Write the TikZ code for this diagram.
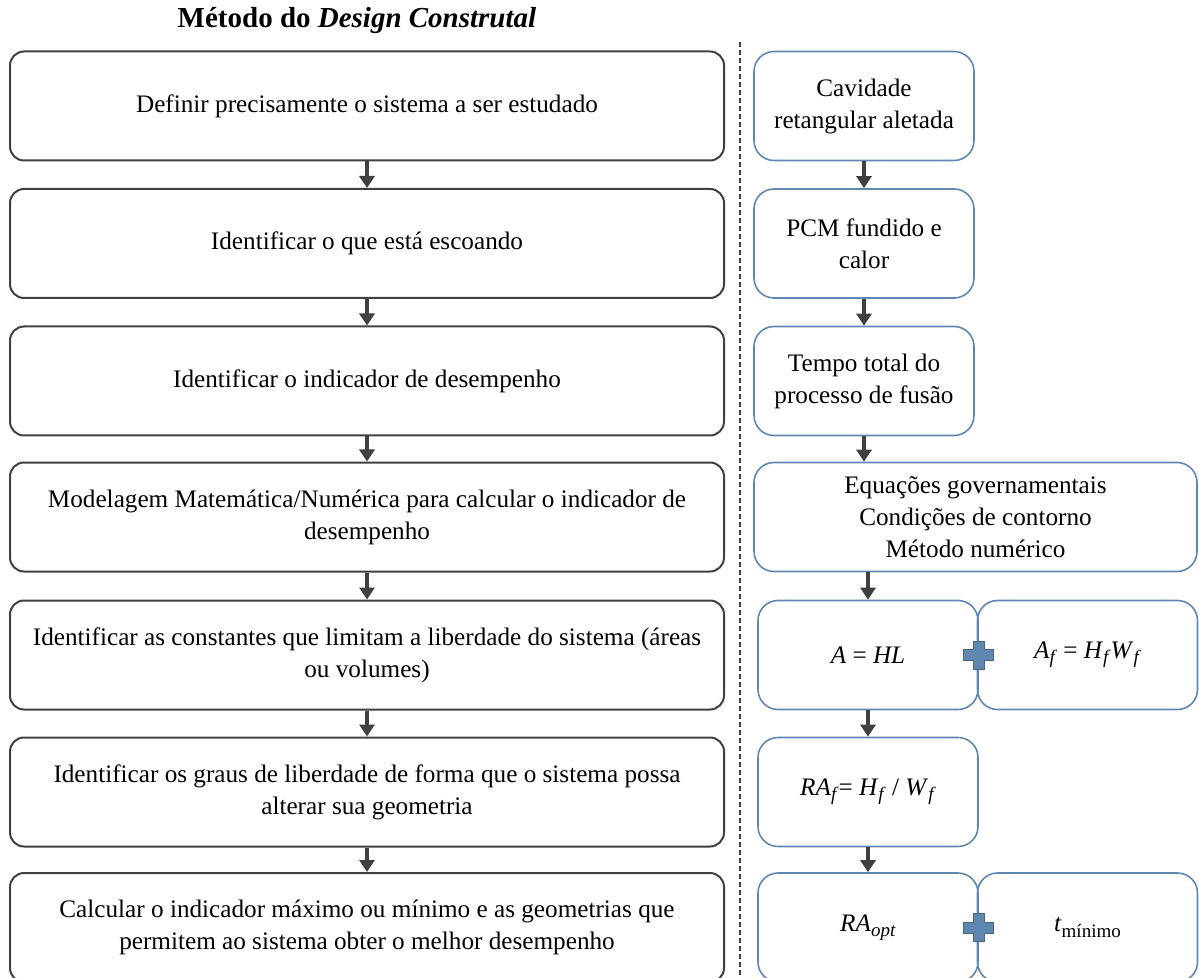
\documentclass[tikz,border=0pt]{standalone}
\usepackage{fontspec}
\setmainfont{Liberation Serif}
\usetikzlibrary{arrows.meta}

\definecolor{boxblue}{RGB}{96,134,178}
\definecolor{darkline}{RGB}{64,64,64}
\newcommand{\isub}[1]{\raisebox{-0.45ex}{\fontsize{9.5}{9.5}\selectfont\textit{#1}}}
\newcommand{\usub}[1]{\raisebox{-0.45ex}{\fontsize{9.5}{9.5}\selectfont #1}}

\tikzset{plusmark/.pic={
  \filldraw[fill=boxblue,draw=boxblue!75!black,line width=0.4pt]
    (-7.5pt,-2.75pt) -- (-2.75pt,-2.75pt) -- (-2.75pt,-7pt) -- (2.75pt,-7pt)
    -- (2.75pt,-2.75pt) -- (7.5pt,-2.75pt) -- (7.5pt,2.75pt) -- (2.75pt,2.75pt)
    -- (2.75pt,7pt) -- (-2.75pt,7pt) -- (-2.75pt,2.75pt) -- (-7.5pt,2.75pt) -- cycle;
}}

\begin{document}
\begin{tikzpicture}
[x=0.5pt,y=-0.5pt,%
  every node/.style={align=center,font=\fontsize{12.6}{16}\selectfont},%
  stepleft/.style={draw=darkline,line width=1pt,rounded corners=7pt,minimum width=357pt,minimum height=54.5pt},%
  stepright/.style={draw=boxblue,line width=0.8pt,rounded corners=10pt,minimum width=110pt,minimum height=54.5pt},%
  flow/.style={-{Triangle[length=6pt,width=7.5pt]},draw=darkline,line width=2pt}]
\useasboundingbox (0,0) rectangle (1199,978);

% title
\node[font=\fontsize{14.5}{16}\selectfont\bfseries] (title) at (357,21) {Método do \textit{Design Construtal}};

% method steps
\node[stepleft] (l1) at (367,106) {Definir precisamente o sistema a ser estudado};
\node[stepleft] (l2) at (367,243.5) {Identificar o que está escoando};
\node[stepleft] (l3) at (367,381) {Identificar o indicador de desempenho};
\node[stepleft] (l4) at (367,517) {Modelagem Matemática/Numérica para calcular o indicador de\\desempenho};
\node[stepleft] (l5) at (367,655) {Identificar as constantes que limitam a liberdade do sistema (áreas\\ou volumes)};
\node[stepleft] (l6) at (367,792) {Identificar os graus de liberdade de forma que o sistema possa\\alterar sua geometria};
\node[stepleft] (l7) at (367,927.5) {Calcular o indicador máximo ou mínimo e as geometrias que\\permitem ao sistema obter o melhor desempenho};

\foreach \a/\b in {l1/l2,l2/l3,l3/l4,l4/l5,l5/l6,l6/l7}
  \draw[flow] (\a) -- (\b);

% separator
\coordinate (sepA) at (740,42);
\coordinate (sepB) at (740,985);
\draw[darkline,line width=1pt,dash pattern=on 2.5pt off 1.5pt] (sepA) -- (sepB);

% application
\node[stepright] (r1) at (864,106) {Cavidade\\retangular aletada};
\node[stepright] (r2) at (864,243.5) {PCM fundido e\\calor};
\node[stepright] (r3) at (864,381) {Tempo total do\\processo de fusão};
\node[stepright,minimum width=221.5pt] (r4) at (975.5,517) {Equações governamentais\\Condições de contorno\\Método numérico};
\node[stepright] (r5a) at (868,655) {\textit{A} = \textit{HL}};
\node[stepright] (r5b) at (1087.5,655) {\textit{A}\isub{f} = \textit{H}\isub{f}\textit{W}\isub{f}};
\node[stepright] (r6) at (868,792) {\textit{RA}\isub{f}= \textit{H}\isub{f} / \textit{W}\isub{f}};
\node[stepright] (r7a) at (868,927.5) {\textit{RA}\isub{opt}};
\node[stepright] (r7b) at (1087.5,927.5) {\textit{t}\usub{mínimo}};

\draw[flow] (r1) -- (r2);
\draw[flow] (r2) -- (r3);
\draw[flow] (r3.south) -- (r3.south |- r4.north);
\draw[flow] (r5a.north |- r4.south) -- (r5a.north);
\draw[flow] (r5a) -- (r6);
\draw[flow] (r6) -- (r7a);

\pic at (r5a.east) {plusmark};
\pic at (r7a.east) {plusmark};
\end{tikzpicture}
\end{document}
